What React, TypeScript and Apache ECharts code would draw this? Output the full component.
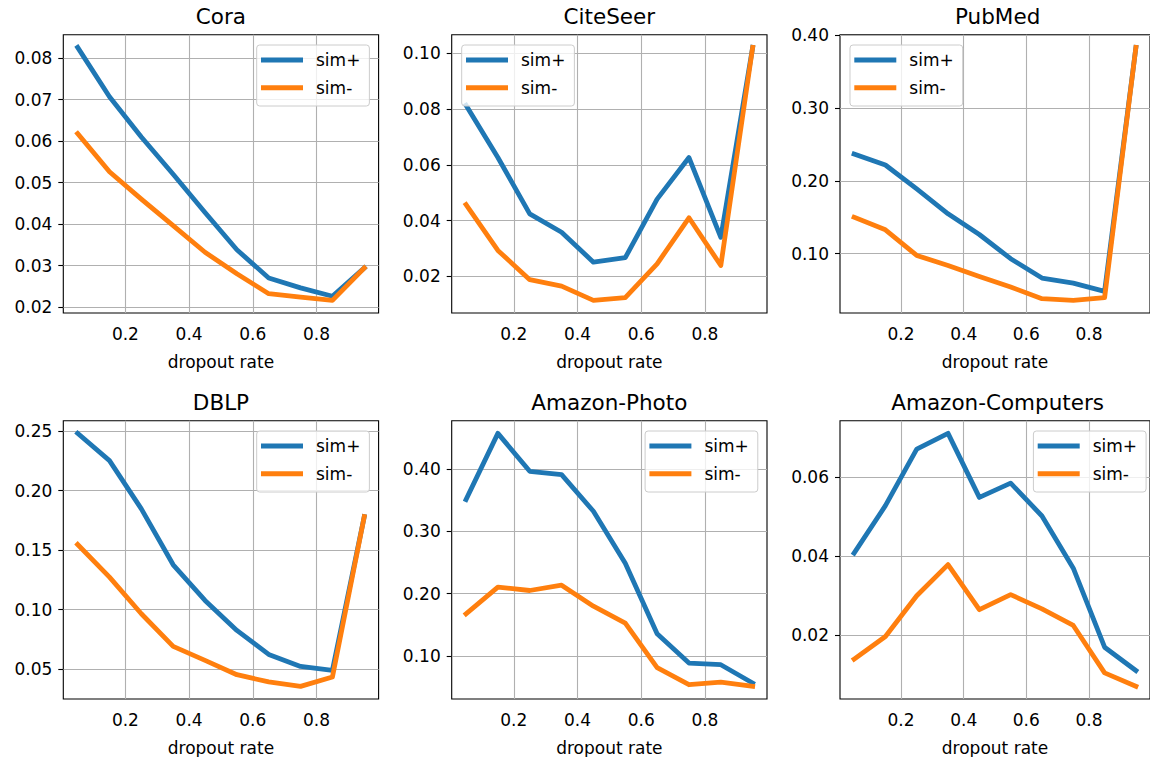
import React, { useEffect, useRef } from "react";
import * as echarts from "echarts";

const dropoutRates = [0.05, 0.15, 0.25, 0.35, 0.45, 0.55, 0.65, 0.75, 0.85, 0.95];
const xTicks = [0.2, 0.4, 0.6, 0.8];

const titles = ["Cora", "CiteSeer", "PubMed", "DBLP", "Amazon-Photo", "Amazon-Computers"];

const coraPlus = [0.0826, 0.0707, 0.061, 0.052, 0.0428, 0.0338, 0.027, 0.0246, 0.0226, 0.0294];
const coraMinus = [0.0618, 0.0526, 0.046, 0.0396, 0.0332, 0.028, 0.0232, 0.0224, 0.0216, 0.0294];

const citeseerPlus = [0.0813, 0.0626, 0.0424, 0.0358, 0.0251, 0.0267, 0.0477, 0.0626, 0.034, 0.1021];
const citeseerMinus = [0.0457, 0.0293, 0.0188, 0.0165, 0.0114, 0.0124, 0.0245, 0.041, 0.0239, 0.1021];

const pubmedPlus = [0.2368, 0.2217, 0.1889, 0.1547, 0.1264, 0.0932, 0.0667, 0.0598, 0.0484, 0.383];
const pubmedMinus = [0.15, 0.1328, 0.0977, 0.084, 0.0689, 0.0544, 0.0384, 0.0361, 0.0398, 0.383];

const dblpPlus = [0.2483, 0.2254, 0.1847, 0.1377, 0.1077, 0.0825, 0.0623, 0.0522, 0.0489, 0.1783];
const dblpMinus = [0.1548, 0.1273, 0.0965, 0.069, 0.0573, 0.0452, 0.0391, 0.0354, 0.0433, 0.1783];

const photoPlus = [0.3509, 0.4571, 0.3963, 0.3909, 0.3322, 0.2489, 0.1358, 0.0887, 0.0861, 0.0567];
const photoMinus = [0.1678, 0.2105, 0.2051, 0.2137, 0.18, 0.1529, 0.0813, 0.054, 0.0583, 0.0514];

const computersPlus = [0.0408, 0.0528, 0.0671, 0.0711, 0.0549, 0.0585, 0.0502, 0.037, 0.017, 0.0111];
const computersMinus = [0.014, 0.0197, 0.03, 0.0379, 0.0265, 0.0303, 0.0267, 0.0225, 0.0105, 0.0071];

const coraTicks = [0.02, 0.03, 0.04, 0.05, 0.06, 0.07, 0.08];
const citeseerTicks = [0.02, 0.04, 0.06, 0.08, 0.1];
const pubmedTicks = [0.1, 0.2, 0.3, 0.4];
const dblpTicks = [0.05, 0.1, 0.15, 0.2, 0.25];
const photoTicks = [0.1, 0.2, 0.3, 0.4];
const computersTicks = [0.02, 0.04, 0.06];

const plusSeries = [coraPlus, citeseerPlus, pubmedPlus, dblpPlus, photoPlus, computersPlus];
const minusSeries = [coraMinus, citeseerMinus, pubmedMinus, dblpMinus, photoMinus, computersMinus];
const yTicks = [coraTicks, citeseerTicks, pubmedTicks, dblpTicks, photoTicks, computersTicks];
const legendRight = [true, false, false, true, true, true];

const BLUE = "#1f77b4";
const ORANGE = "#ff7f0e";
const FONT = "DejaVu Sans";

const colLeft = [63.3, 451.7, 840];
const rowTop = [34.7, 420.7];
const gridW = 315.3;
const gridH = 278.3;

function buildOption() {
  const grid: any[] = [];
  const xAxis: any[] = [];
  const yAxis: any[] = [];
  const series: any[] = [];
  const title: any[] = [];
  const legend: any[] = [];

  for (let i = 0; i < 6; i++) {
    const r = Math.floor(i / 3);
    const c = i % 3;
    const left = colLeft[c];
    const top = rowTop[r];
    const all = plusSeries[i].concat(minusSeries[i]);
    const lo = Math.min(...all);
    const hi = Math.max(...all);
    const pad = (hi - lo) * 0.05;

    grid.push({
      left,
      top,
      width: gridW,
      height: gridH,
      show: true,
      borderColor: "#000",
      borderWidth: 1.1,
      backgroundColor: "transparent",
      containLabel: false,
    });

    xAxis.push({
      type: "value",
      gridIndex: i,
      min: 0.005,
      max: 0.995,
      name: "dropout rate",
      nameLocation: "middle",
      nameGap: 40,
      nameTextStyle: { fontFamily: FONT, fontSize: 17, color: "#000" },
      axisLine: { show: false },
      axisTick: { show: false, customValues: xTicks },
      axisLabel: {
        customValues: xTicks,
        fontFamily: FONT,
        fontSize: 17,
        color: "#000",
        margin: 12.5,
        formatter: (v: number) => v.toFixed(1),
      },
      splitLine: { show: true, lineStyle: { color: "#b0b0b0", width: 1.1 } },
    });

    yAxis.push({
      type: "value",
      gridIndex: i,
      min: lo - pad,
      max: hi + pad,
      axisLine: { show: false },
      axisTick: {
        show: true,
        inside: false,
        length: 5,
        customValues: yTicks[i],
        lineStyle: { color: "#000", width: 1.1 },
      },
      axisLabel: {
        customValues: yTicks[i],
        fontFamily: FONT,
        fontSize: 17,
        color: "#000",
        margin: 11,
        formatter: (v: number) => v.toFixed(2),
      },
      splitLine: { show: true, lineStyle: { color: "#b0b0b0", width: 1.1 } },
    });

    series.push({
      type: "line",
      name: "sim+",
      xAxisIndex: i,
      yAxisIndex: i,
      data: dropoutRates.map((x, k) => [x, plusSeries[i][k]]),
      symbol: "none",
      lineStyle: { color: BLUE, width: 4.8, cap: "square", join: "round" },
      itemStyle: { color: BLUE },
      z: 3,
    });
    series.push({
      type: "line",
      name: "sim-",
      xAxisIndex: i,
      yAxisIndex: i,
      data: dropoutRates.map((x, k) => [x, minusSeries[i][k]]),
      symbol: "none",
      lineStyle: { color: ORANGE, width: 4.8, cap: "square", join: "round" },
      itemStyle: { color: ORANGE },
      z: 4,
    });

    title.push({
      text: titles[i],
      left: left + gridW / 2,
      top: top - 29,
      textAlign: "center",
      padding: 0,
      textStyle: { fontFamily: FONT, fontSize: 21.5, fontWeight: "normal", color: "#000" },
    });

    const legendLeft = legendRight[i] ? left + gridW - 8.6 - 113.3 : left + 10;
    legend.push({
      orient: "vertical",
      left: legendLeft,
      top: top + 10.3,
      data: ["sim+", "sim-"],
      icon: "rect",
      itemWidth: 42,
      itemHeight: 5,
      itemGap: 10.7,
      padding: [6.5, 9, 9.8, 4.3],
      backgroundColor: "rgba(255,255,255,0.8)",
      borderColor: "#cccccc",
      borderWidth: 1,
      borderRadius: 3,
      selectedMode: false,
      textStyle: { fontFamily: FONT, fontSize: 17, color: "#000", padding: [0, 0, 0, 8] },
    });
  }

  return {
    animation: false,
    backgroundColor: "#fff",
    textStyle: { fontFamily: FONT },
    grid,
    xAxis,
    yAxis,
    series,
    title,
    legend,
  };
}

export default function App() {
  const ref = useRef<HTMLDivElement>(null);
  useEffect(() => {
    if (!ref.current) return;
    const chart = echarts.init(ref.current, undefined, { renderer: "svg" });
    chart.setOption(buildOption() as any);
    return () => chart.dispose();
  }, []);
  return (
    <div
      ref={ref}
      style={{ position: "absolute", left: 0, top: 0, width: 1150, height: 757, background: "#fff" }}
    />
  );
}
